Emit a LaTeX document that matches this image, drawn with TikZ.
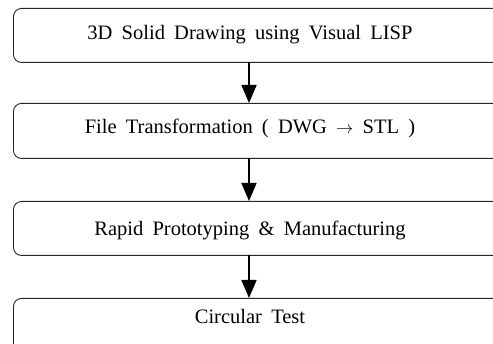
\documentclass[tikz,border=0pt]{standalone}
\usepackage{fontspec}
\setmainfont{Liberation Serif}
\usetikzlibrary{arrows.meta}
\newcommand{\mystepfont}{\fontsize{20.5}{24}\selectfont\spaceskip=0.45em plus 0.1em\relax}
\begin{document}
\begin{tikzpicture}[x=1pt,y=-1pt,
  stepbox/.style={draw=black!85,line width=0.9pt,rounded corners=8pt,minimum width=490pt,anchor=north west,inner sep=0pt},
  steptext/.style={font=\mystepfont,anchor=base,inner sep=0pt},
  flow/.style={line width=1.8pt,-{Triangle[width=15pt,length=18pt]}}]
\useasboundingbox (0,0) rectangle (493,344);
\clip (0,0) rectangle (493,344);
\node[stepbox,minimum height=54pt] (b1) at (13,8) {};
\node[stepbox,minimum height=55pt] (b2) at (13,103) {};
\node[stepbox,minimum height=54pt] (b3) at (13,201) {};
\node[stepbox,minimum height=54pt] (b4) at (13,298) {};
\node[steptext] (t1) at (250,40) {3D Solid Drawing using Visual LISP};
\node[steptext] (t2) at (250,134) {File Transformation ( DWG {\fontsize{17}{20}\selectfont$\rightarrow$} STL )};
\node[steptext] (t3) at (250,236) {Rapid Prototyping \& Manufacturing};
\node[steptext] (t4) at (250,324) {Circular Test};
\coordinate (a1s) at (249,62);
\coordinate (a1e) at (249,103);
\coordinate (a2s) at (249,158);
\coordinate (a2e) at (249,201);
\coordinate (a3s) at (249,255);
\coordinate (a3e) at (249,298);
\draw[flow] (a1s) -- (a1e);
\draw[flow] (a2s) -- (a2e);
\draw[flow] (a3s) -- (a3e);
\end{tikzpicture}
\end{document}
